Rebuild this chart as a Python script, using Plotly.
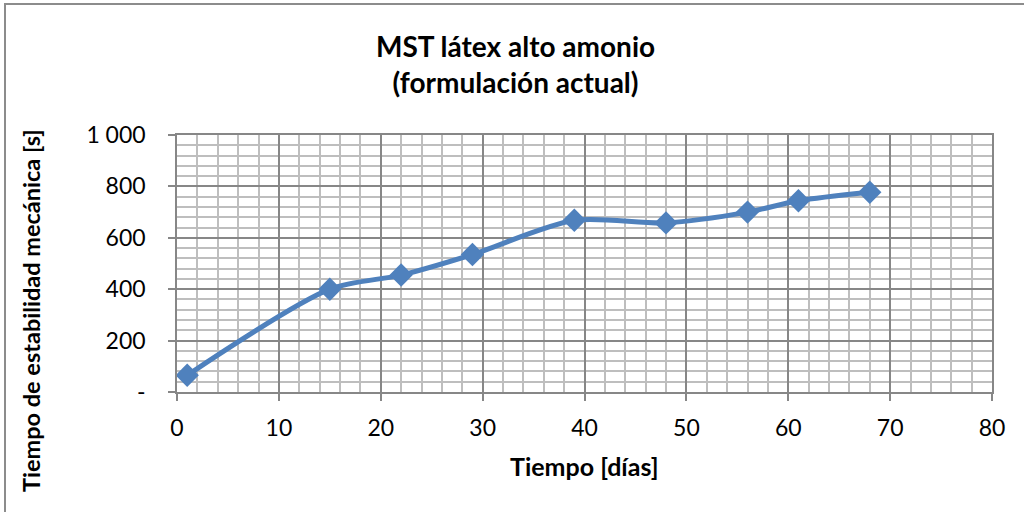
import plotly.graph_objects as go

dias = [1, 15, 22, 29, 39, 48, 56, 61, 68]
mst = [65, 400, 455, 535, 668, 658, 700, 744, 777]
y_tickvals = [0, 200, 400, 600, 800, 1000]
y_ticktext = ["-", "200", "400", "600", "800", "1 000"]
x_tickvals = [0, 10, 20, 30, 40, 50, 60, 70, 80]

FONT = "Lato"
BLUE = "#4F81BD"
L, R, T, B = 177, 32, 135, 120
PW, PH = 1024 - L - R, 512 - T - B

fig = go.Figure()
fig.add_trace(go.Scatter(
    x=dias, y=mst, mode="lines+markers",
    line=dict(color=BLUE, width=5, shape="spline", smoothing=0.8),
    marker=dict(symbol="diamond", size=18, color=BLUE),
    showlegend=False,
))

fig.update_layout(
    width=1024, height=512,
    paper_bgcolor="white", plot_bgcolor="white",
    margin=dict(l=L, r=R, t=T, b=B),
    font=dict(family=FONT, color="black"),
)

fig.update_xaxes(
    range=[0, 80], tickvals=x_tickvals,
    tickfont=dict(size=23, family=FONT, color="black"),
    ticklabelstandoff=8,
    showgrid=True, gridcolor="#878787", gridwidth=1.5,
    minor=dict(dtick=2, showgrid=True, gridcolor="#BEBEBE", gridwidth=1.5),
    showline=True, linecolor="#878787", linewidth=1.5, mirror=True,
    ticks="outside", ticklen=7, tickcolor="#878787", tickwidth=1.5,
    zeroline=False,
)
fig.update_yaxes(
    range=[0, 1000], tickvals=y_tickvals, ticktext=y_ticktext,
    tickfont=dict(size=23, family=FONT, color="black"),
    ticklabelstandoff=18,
    showgrid=True, gridcolor="#878787", gridwidth=1.5,
    minor=dict(dtick=40, showgrid=True, gridcolor="#BEBEBE", gridwidth=1.5),
    showline=True, linecolor="#878787", linewidth=1.5, mirror=True,
    ticks="outside", ticklen=7, tickcolor="#878787", tickwidth=1.5,
    zeroline=False,
)

def px_x(p):
    return (p - L) / PW

def px_y(p):
    return (512 - B - p) / PH

fig.add_annotation(text="<b>MST látex alto amonio<br>(formulación actual)</b>",
                   xref="paper", yref="paper", x=px_x(515), y=px_y(64),
                   xanchor="center", yanchor="middle", showarrow=False,
                   font=dict(family=FONT, size=28, color="black"))
fig.add_annotation(text="<b>Tiempo [días]</b>",
                   xref="paper", yref="paper", x=px_x(584), y=px_y(466),
                   xanchor="center", yanchor="middle", showarrow=False,
                   font=dict(family=FONT, size=25, color="black"))
fig.add_annotation(text="<b>Tiempo de estabilidad mecánica [s]</b>",
                   xref="paper", yref="paper", x=px_x(31), y=px_y(311),
                   xanchor="center", yanchor="middle", showarrow=False, textangle=-90,
                   font=dict(family=FONT, size=23.5, color="black"))

fig.add_shape(type="rect", xref="paper", yref="paper",
              x0=px_x(5), x1=px_x(1040), y0=px_y(530), y1=px_y(4),
              line=dict(color="#8C8C8C", width=2), fillcolor="rgba(0,0,0,0)", layer="below")

fig.write_html("out.html")
